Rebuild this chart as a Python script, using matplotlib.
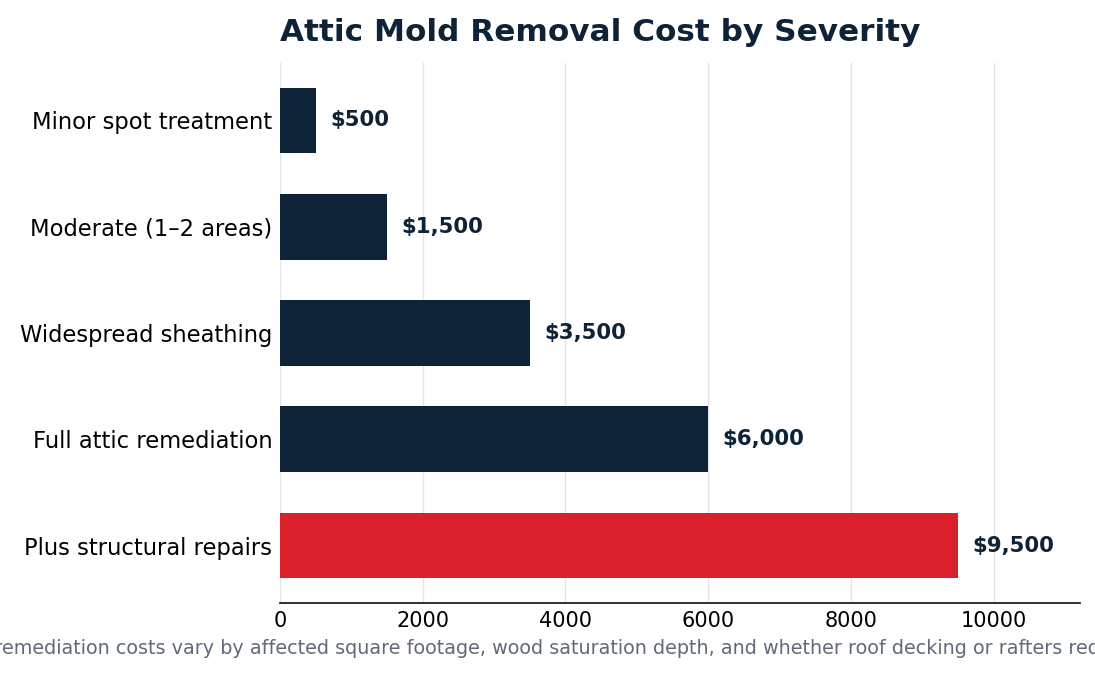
import matplotlib.pyplot as plt

# Cost data by severity level
categories = ['Minor spot treatment', 'Moderate (1–2 areas)', 'Widespread sheathing',
              'Full attic remediation', 'Plus structural repairs']
costs = [500, 1500, 3500, 6000, 9500]
labels = ['$500', '$1,500', '$3,500', '$6,000', '$9,500']
xticks = [0, 2000, 4000, 6000, 8000, 10000]

navy = '#0f2338'
red = '#d9202b'
colors = [navy, navy, navy, navy, red]

fig = plt.figure(figsize=(10.95, 6.74), dpi=100)
ax = fig.add_axes([280 / 1095, 71 / 674, 800 / 1095, 540 / 674])

ax.barh(categories, costs, height=0.62, color=colors, zorder=3)
ax.invert_yaxis()
ax.set_xlim(0, max(costs) * 1.18)
ax.set_xticks(xticks)

# Value labels next to each bar
for i, (v, lab) in enumerate(zip(costs, labels)):
    ax.text(v + 200, i, lab, va='center', ha='left', fontsize=15.3,
            fontweight='bold', color=navy)

ax.grid(axis='x', color='#e1e4ea', linewidth=1, zorder=0)
for s in ['top', 'right', 'left']:
    ax.spines[s].set_visible(False)
ax.spines['bottom'].set_color('#222222')
ax.spines['bottom'].set_linewidth(1.3)
ax.tick_params(axis='y', length=0, labelsize=16.3, pad=5.5)
ax.tick_params(axis='x', length=0, labelsize=15, pad=6)

ax.set_title('Attic Mold Removal Cost by Severity', loc='left', fontsize=22.4,
             fontweight='bold', color=navy, pad=16)

fig.text(0.5297, 0.038, 'Attic mold remediation costs vary by affected square footage, wood saturation '
         'depth, and whether roof decking or rafters require replacement.',
         ha='center', va='center', fontsize=13.8, color='#5f6b7a')

plt.savefig('out.png', dpi=100)
